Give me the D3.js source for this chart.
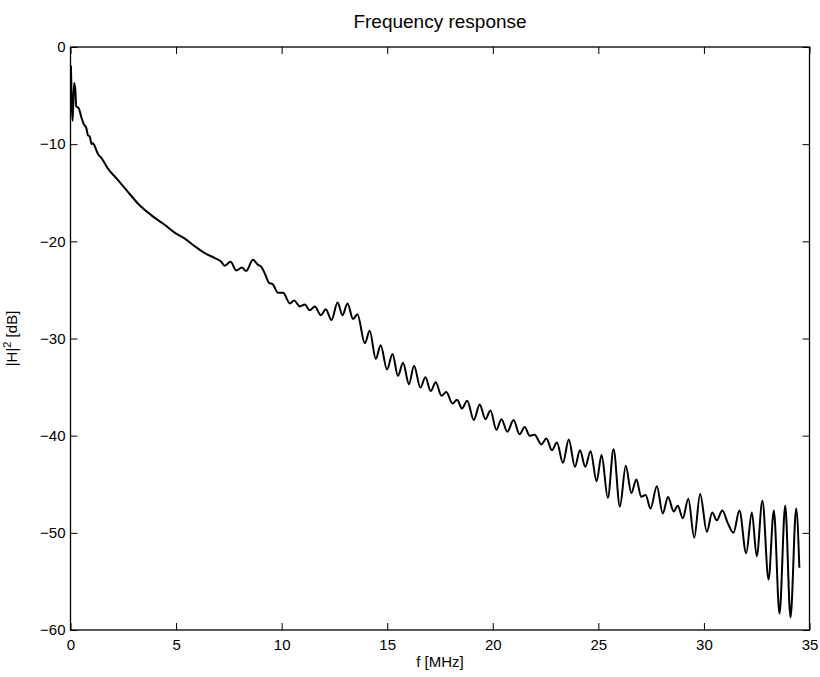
<!DOCTYPE html>
<html>
<head>
<meta charset="utf-8">
<script src="https://cdn.jsdelivr.net/npm/d3@7"></script>
<style>
  body { margin: 0; background: #fff; }
  svg { display: block; font-family: "Liberation Sans", Arial, Helvetica, sans-serif; }
  .tick text { font-size: 15px; fill: #000; }
  .tick line { stroke: #000; stroke-width: 1; }
</style>
</head>
<body>
<svg width="820" height="677"></svg>
<script>
// frequency axis [MHz] and magnitude [dB]
let fMHz = [
  0.02, 0.10, 0.17, 0.23, 0.27, 0.39, 0.51, 0.62, 0.75, 0.83, 0.91, 1.00, 1.06, 1.22, 1.30, 1.46,
  1.77, 2.25, 2.72, 3.19, 3.82, 4.46, 4.93, 5.40, 5.88, 6.35, 6.82, 7.14, 7.30, 7.58, 7.85, 8.12,
  8.32, 8.64, 8.87, 9.03, 9.20, 9.41, 9.57, 9.83, 10.07, 10.39, 10.59, 10.86, 11.10, 11.33, 11.57,
  11.86, 12.09, 12.36, 12.65, 12.88, 13.12, 13.38, 13.59, 13.94, 14.17, 14.46, 14.69, 14.99, 15.25,
  15.51, 15.75, 16.03, 16.27, 16.57, 16.81, 17.06, 17.30, 17.57, 17.80, 18.09, 18.31, 18.54, 18.79,
  19.10, 19.38, 19.65, 19.89, 20.17, 20.41, 20.69, 20.98, 21.27, 21.51, 21.75, 21.98, 22.30, 22.54,
  22.80, 23.04, 23.32, 23.60, 23.89, 24.13, 24.38, 24.63, 24.92, 25.15, 25.45, 25.72, 26.02, 26.30,
  26.56, 26.80, 27.03, 27.24, 27.47, 27.77, 28.05, 28.30, 28.57, 28.76, 29.00, 29.26, 29.54, 29.82,
  30.14, 30.39, 30.61, 30.87, 31.13, 31.40, 31.68, 32.00, 32.27, 32.50, 32.77, 33.06, 33.31, 33.58,
  33.85, 34.10, 34.37, 34.52
];
let hdB = [
  -1.9, -7.6, -3.7, -4.4, -6.1, -6.3, -7.2, -7.9, -8.35, -9.1, -9.2, -10.0, -9.9, -10.6, -11.0, -11.4,
  -12.5, -13.7, -14.9, -16.1, -17.3, -18.3, -19.1, -19.7, -20.5, -21.2, -21.7, -22.1, -22.5, -22.1, -23.0, -22.7,
  -23.05, -21.9, -22.4, -22.6, -23.3, -24.3, -24.4, -25.3, -25.3, -26.4, -26.1, -26.7, -26.5, -27.1, -26.7,
  -27.6, -27.0, -28.1, -26.3, -27.6, -26.4, -28.0, -27.5, -30.5, -29.2, -32.1, -30.7, -33.2, -31.6,
  -33.85, -32.5, -34.7, -32.8, -35.05, -34.0, -35.4, -34.5, -35.9, -35.5, -36.7, -36.3, -37.2, -36.4,
  -38.4, -36.8, -38.3, -37.4, -39.4, -38.3, -39.6, -38.4, -39.85, -39.1, -40.0, -39.9, -40.9, -40.3,
  -41.5, -40.7, -42.8, -40.4, -43.2, -41.5, -43.2, -41.6, -44.7, -42.0, -46.4, -41.4, -47.3, -43.1,
  -45.9, -44.5, -46.3, -46.1, -47.5, -45.2, -48.0, -46.3, -47.8, -47.2, -48.5, -46.5, -50.5, -46.0,
  -49.9, -47.9, -48.7, -47.7, -49.0, -50.0, -47.7, -52.1, -47.9, -52.4, -46.7, -54.8, -47.7, -58.3,
  -47.2, -58.7, -47.5, -53.6
];
let xTicks = [0, 5, 10, 15, 20, 25, 30, 35];
let yTicks = [-60, -50, -40, -30, -20, -10, 0];

var svg = d3.select("svg");
let padL = 70.5, padR = 809.5, padT = 47, padB = 630;

let x = d3.scaleLinear().domain([0, 35]).range([padL, padR]);
let y = d3.scaleLinear().domain([-60, 0]).range([padB, padT]);
let fmt = v => String(v).replace("-", "\u2212");

// axes with inward ticks on all four sides
svg.append("g")
  .attr("transform", translate(0, padB))
  .call(d3.axisBottom(x).tickValues(xTicks).tickFormat(fmt).tickSizeInner(-7).tickSizeOuter(0).tickPadding(9))
  .call(g => g.select(".domain").remove());
svg.append("g")
  .attr("transform", translate(0, padT))
  .call(d3.axisTop(x).tickValues(xTicks).tickFormat("").tickSizeInner(-7).tickSizeOuter(0))
  .call(g => g.select(".domain").remove());
svg.append("g")
  .attr("transform", translate(padL, 0))
  .call(d3.axisLeft(y).tickValues(yTicks).tickFormat(fmt).tickSizeInner(-7).tickSizeOuter(0).tickPadding(5))
  .call(g => g.select(".domain").remove());
svg.append("g")
  .attr("transform", translate(padR, 0))
  .call(d3.axisRight(y).tickValues(yTicks).tickFormat("").tickSizeInner(-7).tickSizeOuter(0))
  .call(g => g.select(".domain").remove());

svg.selectAll("g").attr("font-family", null).attr("font-size", null);

// frame
svg.append("rect")
  .attr("x", padL).attr("y", padT)
  .attr("width", padR - padL).attr("height", padB - padT)
  .attr("fill", "none").attr("stroke", "#000").attr("stroke-width", 1.3);

// response curve
let line = d3.line()
  .x((d, i) => x(fMHz[i]))
  .y(d => y(d))
  .curve(d3.curveMonotoneX);

svg.append("path")
  .datum(hdB)
  .attr("d", line)
  .attr("fill", "none")
  .attr("stroke", "#000")
  .attr("stroke-width", 2)
  .attr("stroke-linejoin", "round");

// labels
svg.append("text")
  .attr("x", (padL + padR) / 2).attr("y", 28)
  .attr("text-anchor", "middle")
  .style("font-size", "19px")
  .text("Frequency response");

svg.append("text")
  .attr("x", (padL + padR) / 2).attr("y", 667)
  .attr("text-anchor", "middle")
  .style("font-size", "15px")
  .text("f [MHz]");

let yl = svg.append("text")
  .attr("transform", translate(17, (padT + padB) / 2) + " rotate(-90)")
  .attr("text-anchor", "middle")
  .style("font-size", "15px");
yl.append("tspan").text("|H|");
yl.append("tspan").attr("dy", -6).style("font-size", "11px").text("2");
yl.append("tspan").attr("dy", 6).text(" [dB]");

function translate(x, y) {
  return `translate(${x},${y})`;
}
</script>
</body>
</html>
